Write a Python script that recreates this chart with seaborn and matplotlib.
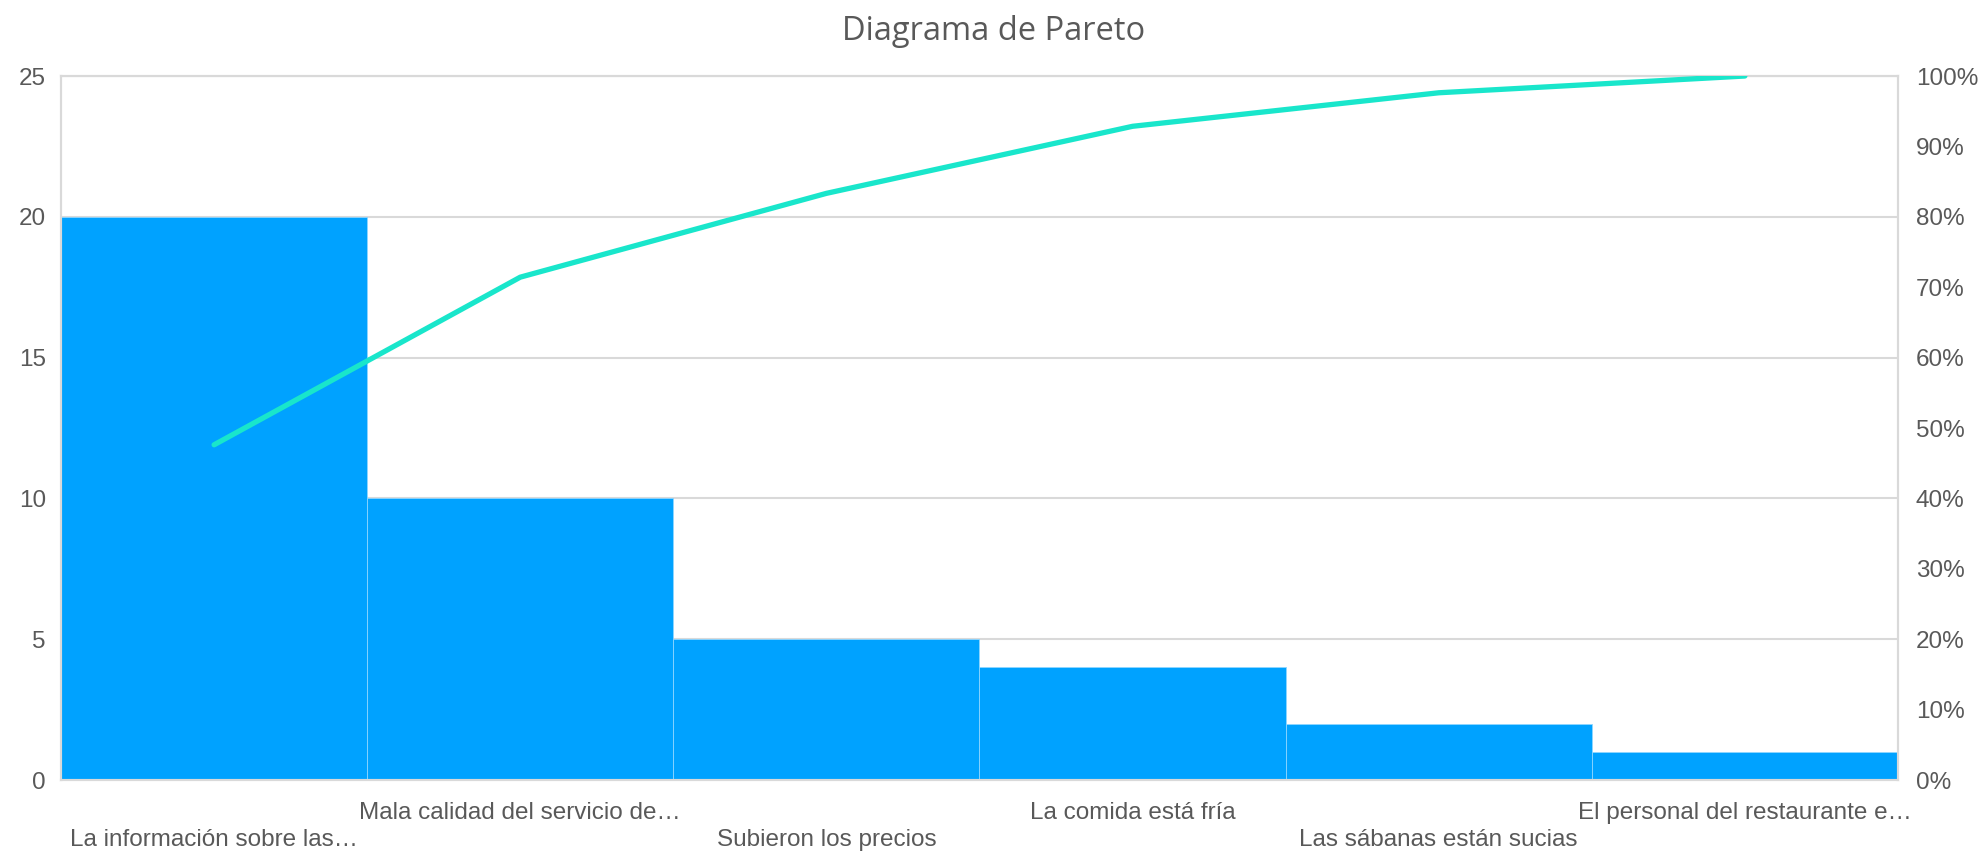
import numpy as np
import pandas as pd
import matplotlib
matplotlib.use("Agg")
import matplotlib.pyplot as plt
from matplotlib.ticker import PercentFormatter
import seaborn as sns

categories = [
    "La información sobre las…",
    "Mala calidad del servicio de…",
    "Subieron los precios",
    "La comida está fría",
    "Las sábanas están sucias",
    "El personal del restaurante e…",
]
counts = [20, 10, 5, 4, 2, 1]
left_ticks = [0, 5, 10, 15, 20, 25]
right_ticks = [0.0, 0.1, 0.2, 0.3, 0.4, 0.5, 0.6, 0.7, 0.8, 0.9, 1.0]

sns.set_theme(style="white")
plt.rcParams["font.family"] = ["Liberation Sans", "DejaVu Sans"]

TEXT = "#595959"
GRID = "#d9d9d9"
BAR = "#00a2ff"
LINE = "#19e6cb"

df = pd.DataFrame({"cat": categories, "count": counts})
df["pos"] = np.arange(len(df))
df["cum"] = np.cumsum(df["count"]) / df["count"].sum()

fig = plt.figure(figsize=(19.88, 8.57), dpi=100)
ax = fig.add_axes([0.0307, 0.0898, 0.9240, 0.8215])

sns.barplot(data=df, x="cat", y="count", color=BAR, width=1.0, saturation=1,
            edgecolor="#8fd6ff", linewidth=0.6, ax=ax, zorder=2)
ax.set_xlim(-0.5, len(df) - 0.5)
ax.set_ylim(0, 25)
ax.set_yticks(left_ticks)
ax.yaxis.grid(True, color=GRID, linewidth=1.5, zorder=0)
ax.set_axisbelow(True)
ax.set_xlabel("")
ax.set_ylabel("")

labels = [("\n" + c) if i % 2 == 0 else c for i, c in enumerate(categories)]
ax.set_xticks(df["pos"])
ax.set_xticklabels(labels, linespacing=1.3)
ax.tick_params(axis="x", length=0, pad=16, labelsize=17.5, labelcolor=TEXT)
ax.tick_params(axis="y", length=0, pad=11, labelsize=17.5, labelcolor=TEXT)

ax2 = ax.twinx()
sns.lineplot(data=df, x="pos", y="cum", color=LINE, linewidth=3.8, ax=ax2,
             solid_capstyle="round", zorder=3)
ax2.set_ylim(0, 1)
ax2.set_yticks(right_ticks)
ax2.yaxis.set_major_formatter(PercentFormatter(1.0, decimals=0))
ax2.tick_params(axis="y", length=0, pad=13, labelsize=17.5, labelcolor=TEXT)
ax2.set_ylabel("")
ax2.set_xlim(-0.5, len(df) - 0.5)

for a in (ax, ax2):
    for s in a.spines.values():
        s.set_color(GRID)
        s.set_linewidth(1.5)

fig.suptitle("Diagrama de Pareto", x=0.5, y=0.982, fontsize=23.5, color=TEXT,
             family=["Open Sans", "DejaVu Sans"])

fig.savefig("out.png", dpi=100)
